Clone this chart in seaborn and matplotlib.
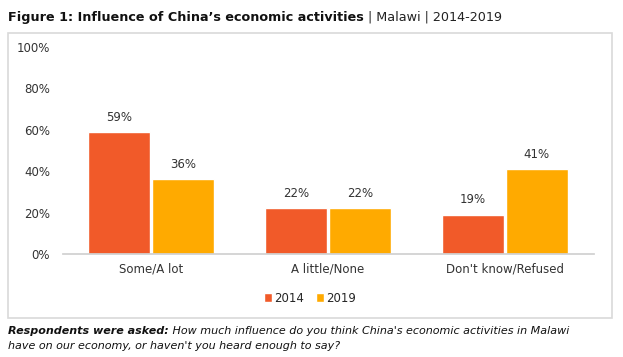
import matplotlib
matplotlib.use("Agg")
import matplotlib.pyplot as plt
from matplotlib.patches import Rectangle, Patch
import seaborn as sns
import pandas as pd

categories = ["Some/A lot", "A little/None", "Don't know/Refused"]
years = ["2014", "2019"]
values_2014 = [59, 22, 19]
values_2019 = [36, 22, 41]
colors = ["#F15A29", "#FFAA00"]

df = pd.DataFrame({
    "category": categories * 2,
    "year": [years[0]] * 3 + [years[1]] * 3,
    "value": values_2014 + values_2019,
})

sns.set_theme(style="white")
plt.rcParams["font.family"] = ["DejaVu Sans"]

W, H = 623, 357
fig = plt.figure(figsize=(W / 100, H / 100), dpi=100)
ax = fig.add_axes([62.5 / W, 1 - 254 / H, 531 / W, 207 / H])

sns.barplot(data=df, x="category", y="value", hue="year", palette=colors,
            width=0.72, gap=0.03, ax=ax, legend=False, saturation=1)

for cont in ax.containers:
    ax.bar_label(cont, labels=[f"{v:.0f}%" for v in cont.datavalues],
                 padding=6, fontsize=8.5, color="#333333")

ax.set_ylim(0, 100)
ax.set_xlim(-0.5, 2.5)
ax.set_yticks([0, 20, 40, 60, 80, 100])
ax.set_yticklabels([f"{t}%" for t in [0, 20, 40, 60, 80, 100]], fontsize=8.5, color="#333333")
ax.tick_params(axis="x", labelsize=8.5, colors="#333333", length=0, pad=6)
ax.tick_params(axis="y", length=0, pad=9)
ax.set_xlabel("")
ax.set_ylabel("")
for s in ["top", "right", "left"]:
    ax.spines[s].set_visible(False)
ax.spines["bottom"].set_color("#D0D0D0")

handles = [Patch(facecolor=c, label=y) for c, y in zip(colors, years)]
fig.legend(handles=handles, loc="center", bbox_to_anchor=(310 / W, 1 - 298 / H), ncol=2,
           frameon=False, fontsize=8.5, handlelength=0.7, handleheight=0.7,
           handletextpad=0.2, columnspacing=1.0)

fig.patches.append(Rectangle((8 / W, 1 - 318 / H), 604 / W, 285 / H,
                             transform=fig.transFigure, fill=False,
                             edgecolor="#D9D9D9", linewidth=1.2))

renderer = fig.canvas.get_renderer()

def seq_text(x_px, y_px, parts):
    x = x_px
    for s, kw in parts:
        kw = dict(kw)
        kw.setdefault("color", "#111111")
        t = fig.text(x / W, 1 - y_px / H, s, va="center", ha="left", **kw)
        bb = t.get_window_extent(renderer=renderer)
        x = bb.x1

seq_text(8, 17, [("Figure 1: Influence of China’s economic activities", dict(fontsize=9.2, fontweight="bold")),
                 (" | Malawi | 2014-2019", dict(fontsize=9.2, color="#222222"))])
seq_text(8, 331, [("Respondents were asked:", dict(fontsize=8, fontweight="bold", style="italic")),
                  (" How much influence do you think China's economic activities in Malawi", dict(fontsize=8, style="italic"))])
seq_text(8, 346, [("have on our economy, or haven't you heard enough to say?", dict(fontsize=8, style="italic"))])

fig.savefig("out.png", dpi=100)
